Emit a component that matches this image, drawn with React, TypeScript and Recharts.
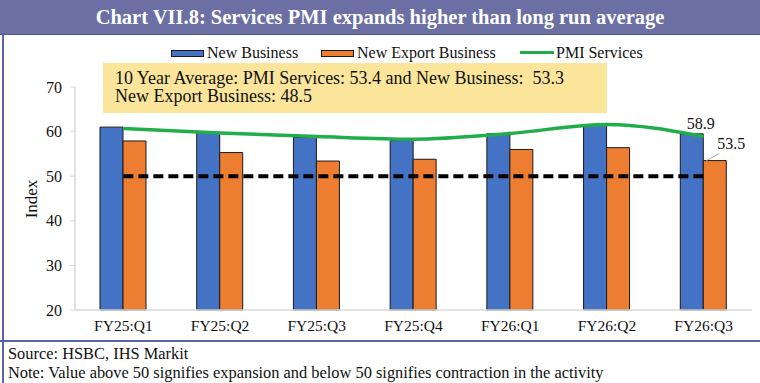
import React from 'react';
import { ComposedChart, Bar, Line, XAxis, YAxis, ReferenceLine, LabelList } from 'recharts';

const categories = ['FY25:Q1', 'FY25:Q2', 'FY25:Q3', 'FY25:Q4', 'FY26:Q1', 'FY26:Q2', 'FY26:Q3'];
const newBusiness = [61.0, 59.8, 58.7, 58.0, 59.5, 61.5, 59.5];
const newExportBusiness = [57.9, 55.3, 53.4, 53.8, 56.0, 56.4, 53.5];
const pmiServices = [60.7, 59.7, 58.9, 58.3, 59.6, 61.6, 58.9];
const yTicks = [20, 30, 40, 50, 60, 70];
const thresholdValue = 50;

const data = categories.map((c, i) => ({
  cat: c,
  nb: newBusiness[i],
  neb: newExportBusiness[i],
  pmi: pmiServices[i],
}));

const FONT = '"Liberation Serif", "DejaVu Serif", serif';
const BLUE = '#4472c4';
const ORANGE = '#ed7d31';
const GREEN = '#22ad4b';
const FRAME = '#5b65a4';
const lastIdx = categories.length - 1;

const PmiLabel = (props: any) => {
  const { x, y, value, index } = props;
  if (index !== lastIdx) return null;
  return (
    <text x={x - 3} y={y - 13} textAnchor="middle" dominantBaseline="central" fontFamily={FONT} fontSize={16} fill="#111">
      {Number(value).toFixed(1)}
    </text>
  );
};

const ExportLabel = (props: any) => {
  const { x, y, width, value, index } = props;
  if (index !== lastIdx) return null;
  const lx = x + width + 5;
  const ly = y - 17;
  return (
    <g>
      <line x1={x + 3} y1={y} x2={x + 16} y2={y - 7} stroke="#a6a6a6" strokeWidth={1} />
      <text x={lx} y={ly} textAnchor="middle" dominantBaseline="central" fontFamily={FONT} fontSize={16} fill="#111">
        {Number(value).toFixed(1)}
      </text>
    </g>
  );
};

const IndexLabel = () => (
  <text x={31} y={199} transform="rotate(-90 31 199)" textAnchor="middle" dominantBaseline="central" fontFamily={FONT} fontSize={17} fill="#111">
    Index
  </text>
);

export default function App() {
  return (
    <div style={{ position: 'absolute', left: 0, top: 0, width: 760, height: 383, background: '#fff', overflow: 'hidden', fontFamily: FONT }}>
      {/* Title bar */}
      <div style={{ position: 'absolute', left: 0, top: 0, width: 760, height: 35, background: '#6b6fa3', borderBottom: '1px solid #4d5794', boxSizing: 'border-box', color: '#fff', fontWeight: 700, fontSize: 20.5, lineHeight: '34px', textAlign: 'center', fontFamily: FONT }}>
        Chart VII.8: Services PMI expands higher than long run average
      </div>
      {/* Left border */}
      <div style={{ position: 'absolute', left: 2, top: 35, width: 2, height: 348, background: FRAME }} />

      <div style={{ position: 'absolute', left: 0, top: 0 }}>
        <ComposedChart width={760} height={383} data={data} margin={{ top: 87, right: 8, bottom: 43, left: 0 }} barGap={0}>
          <XAxis
            dataKey="cat"
            height={30}
            tickLine={false}
            tickSize={0}
            tickMargin={10}
            axisLine={{ stroke: '#d9d9d9', strokeWidth: 1.5 }}
            tick={{ fontFamily: FONT, fontSize: 15.5, fill: '#111' }}
            interval={0}
          />
          <YAxis
            width={75}
            domain={[20, 70]}
            ticks={yTicks}
            tickSize={5}
            tickMargin={8}
            axisLine={{ stroke: '#d9d9d9', strokeWidth: 1.5 }}
            tickLine={{ stroke: '#d9d9d9' }}
            tick={{ fontFamily: FONT, fontSize: 16, fill: '#111' }}
            label={<IndexLabel />}
          />
          <Bar dataKey="nb" name="New Business" fill={BLUE} stroke="#1a1a1a" strokeWidth={1} barSize={23} isAnimationActive={false} />
          <Bar dataKey="neb" name="New Export Business" fill={ORANGE} stroke="#1a1a1a" strokeWidth={1} barSize={23} isAnimationActive={false}>
            <LabelList dataKey="neb" content={<ExportLabel />} />
          </Bar>
          <ReferenceLine
            segment={[{ x: categories[0], y: thresholdValue }, { x: categories[lastIdx], y: thresholdValue }]}
            stroke="#000"
            strokeWidth={4}
            strokeDasharray="10 5"
          />
          <Line dataKey="pmi" name="PMI Services" type="monotone" stroke={GREEN} strokeWidth={3.5} dot={false} activeDot={false} isAnimationActive={false}>
            <LabelList dataKey="pmi" content={<PmiLabel />} />
          </Line>
        </ComposedChart>
      </div>

      {/* Legend */}
      <div style={{ position: 'absolute', left: 171, top: 50, width: 31, height: 5, background: BLUE, border: '1px solid #1a1a1a' }} />
      <div style={{ position: 'absolute', left: 207, top: 43, fontSize: 16, lineHeight: '20px', color: '#111' }}>New Business</div>
      <div style={{ position: 'absolute', left: 321, top: 50, width: 31, height: 5, background: ORANGE, border: '1px solid #1a1a1a' }} />
      <div style={{ position: 'absolute', left: 357, top: 43, fontSize: 16, lineHeight: '20px', color: '#111' }}>New Export Business</div>
      <div style={{ position: 'absolute', left: 520, top: 51, width: 34, height: 3, background: GREEN }} />
      <div style={{ position: 'absolute', left: 556, top: 43, fontSize: 16, lineHeight: '20px', color: '#111' }}>PMI Services</div>

      {/* Annotation box */}
      <div style={{ position: 'absolute', left: 103, top: 63, width: 504, height: 50, background: '#fbe59a', boxSizing: 'border-box', padding: '6px 0 0 12px', fontSize: 18, lineHeight: '18px', color: '#111', whiteSpace: 'pre' }}>
        {'10 Year Average: PMI Services: 53.4 and New Business:  53.3\nNew Export Business: 48.5'}
      </div>

      {/* Footer */}
      <div style={{ position: 'absolute', left: 0, top: 340, width: 760, height: 2, background: FRAME }} />
      <div style={{ position: 'absolute', left: 8, top: 345, fontSize: 16.4, lineHeight: '18px', color: '#111' }}>Source: HSBC, IHS Markit</div>
      <div style={{ position: 'absolute', left: 8, top: 364, fontSize: 16.4, lineHeight: '18px', color: '#111' }}>
        Note: Value above 50 signifies expansion and below 50 signifies contraction in the activity
      </div>
    </div>
  );
}
